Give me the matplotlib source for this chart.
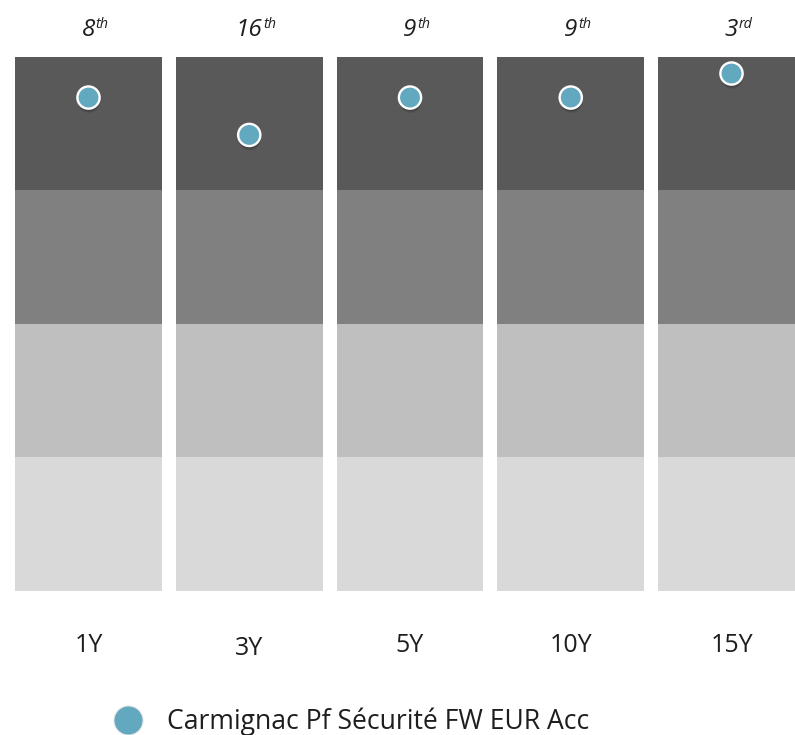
import matplotlib
matplotlib.use("Agg")
import matplotlib.pyplot as plt
import matplotlib.patheffects as pe
from matplotlib.lines import Line2D

plt.rcParams['font.family'] = ['Open Sans', 'DejaVu Sans']

# ---- data ----
periods = ["1Y", "3Y", "5Y", "10Y", "15Y"]
rank_digits = ["8", "16", "9", "9", "3"]
rank_suffix = ["th", "th", "th", "th", "rd"]
# position of the fund inside the peer group (0 = best, 100 = worst)
rank_position = [7.6, 14.6, 7.6, 7.6, 3.1]
quartile_size = [25, 25, 25, 25]
fund_name = "Carmignac Pf Sécurité FW EUR Acc"

# ---- style ----
band_colors = ["#595959", "#808080", "#bfbfbf", "#d9d9d9"]
dot_color = "#62a8bf"
text_color = "#1e1e1e"
label_dy_pt = [0, -2.2, 0, 0, 0]

fig = plt.figure(figsize=(7.95, 7.35), dpi=100)
ax = fig.add_axes([0, 0, 1, 1])
ax.set_xlim(-0.5505, 4.395)
ax.set_ylim(126.97, -10.67)
ax.axis('off')

x = list(range(len(periods)))
bottom = [0] * len(periods)
for q, size in enumerate(quartile_size):
    ax.bar(x, [size] * len(periods), bottom=bottom, width=0.914,
           color=band_colors[q], linewidth=0, zorder=1)
    bottom = [b + size for b in bottom]

shadow = [pe.SimplePatchShadow(offset=(0.3, -3.0), shadow_rgbFace='black', alpha=0.10),
          pe.SimplePatchShadow(offset=(0.2, -2.0), shadow_rgbFace='black', alpha=0.14),
          pe.SimplePatchShadow(offset=(0.1, -1.0), shadow_rgbFace='black', alpha=0.14),
          pe.Normal()]
ax.plot(x, rank_position, 'o', ls='none', ms=16.0, mfc=dot_color, mec='white',
        mew=1.7, zorder=3, path_effects=shadow, clip_on=False)

# top rank labels: digits centered on the column, suffix as superscript
digit_texts = []
for i, d in enumerate(rank_digits):
    t = ax.annotate(d, xy=(i, 0), xycoords='data', xytext=(0, 15.1),
                    textcoords='offset points', ha='center', va='baseline',
                    fontsize=17.5, fontstyle='italic', color=text_color)
    digit_texts.append(t)

fig.canvas.draw()
renderer = fig.canvas.get_renderer()
for i, t in enumerate(digit_texts):
    bb = t.get_window_extent(renderer)
    half_w_pt = (bb.width / 2) * 72 / fig.dpi
    ax.annotate(rank_suffix[i], xy=(i, 0), xycoords='data',
                xytext=(half_w_pt + 0.3, 20.6), textcoords='offset points',
                ha='left', va='baseline', fontsize=10.4, fontstyle='italic',
                color=text_color)

# bottom period labels
for i, p in enumerate(periods):
    ax.annotate(p, xy=(i, 100), xycoords='data', xytext=(0, -43.7 + label_dy_pt[i]),
                textcoords='offset points', ha='center', va='baseline',
                fontsize=18, color=text_color)

handle = Line2D([], [], marker='o', ls='none', ms=21, mfc=dot_color,
                mec='#e8e8e8', mew=0.8)
leg = ax.legend([handle], [fund_name], loc='center left',
                bbox_to_anchor=(108 / 795, 1 - 722 / 735),
                bbox_transform=fig.transFigure, frameon=False,
                fontsize=19.1, handlelength=1.5, handletextpad=0.72,
                borderpad=0, borderaxespad=0)
for txt in leg.get_texts():
    txt.set_color(text_color)

fig.savefig("out.png", dpi=100)
